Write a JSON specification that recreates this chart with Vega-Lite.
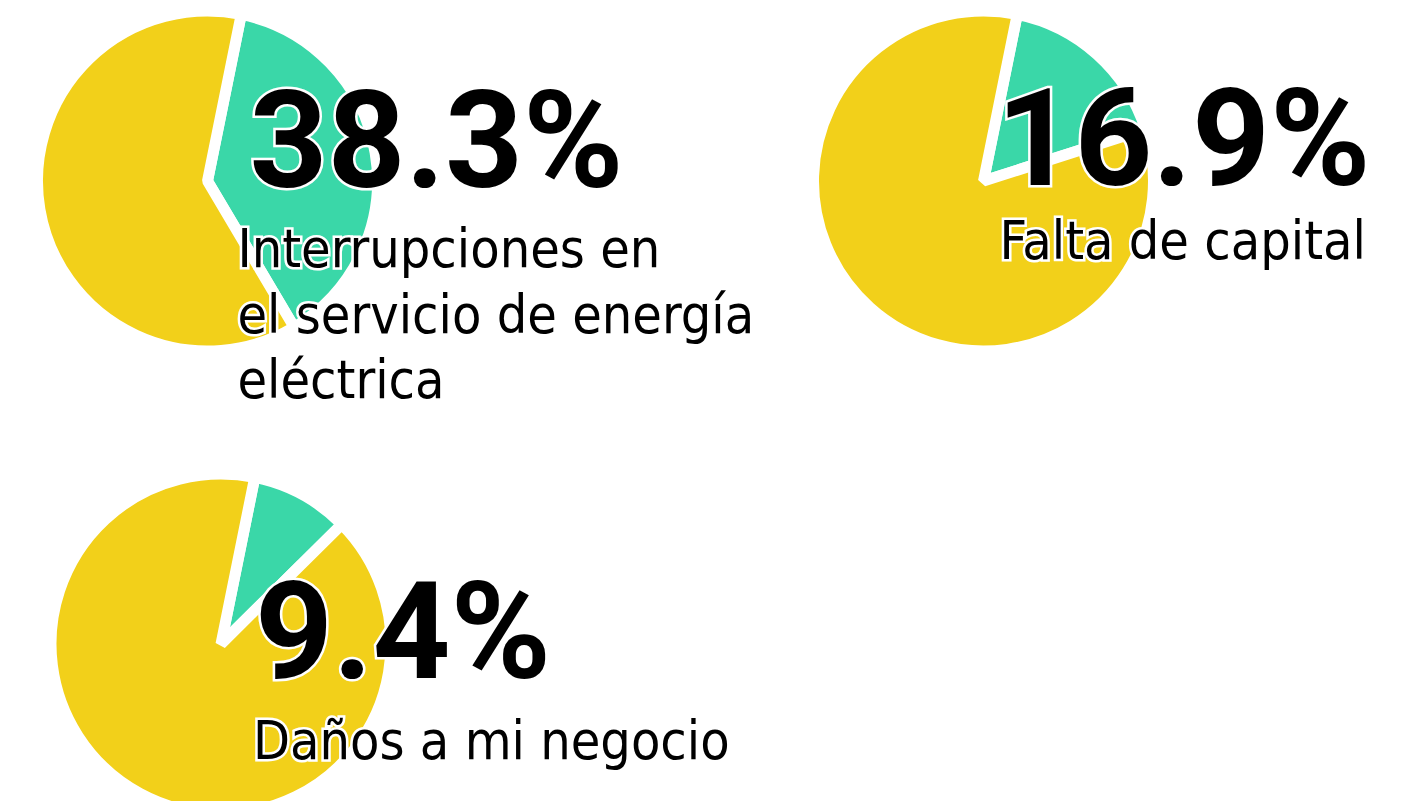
{
  "$schema": "https://vega.github.io/schema/vega-lite/v6.json",
  "padding": 0,
  "bounds": "flush",
  "columns": 2,
  "spacing": {"row": 112, "column": 334},
  "background": "white",
  "config": {"view": {"stroke": null}},
  "datasets": {
    "p1": [
      {"segmento": "Sí", "valor": 38.3, "orden": 1, "etiqueta": "38.3%", "texto": "Interrupciones en\nel servicio de energía\neléctrica"},
      {"segmento": "No", "valor": 61.7, "orden": 2, "etiqueta": "", "texto": ""}
    ],
    "p2": [
      {"segmento": "Sí", "valor": 16.9, "orden": 1, "etiqueta": "16.9%", "texto": "Falta de capital"},
      {"segmento": "No", "valor": 83.1, "orden": 2, "etiqueta": "", "texto": ""}
    ],
    "p3": [
      {"segmento": "Sí", "valor": 9.4, "orden": 1, "etiqueta": "9.4%", "texto": "Daños a mi negocio"},
      {"segmento": "No", "valor": 90.6, "orden": 2, "etiqueta": "", "texto": ""}
    ]
  },
  "concat": [
    {
      "width": 415, "height": 362,
      "data": {"name": "p1"},
      "layer": [
        {"mark": {"type": "arc", "outerRadius": 170, "stroke": "white", "strokeWidth": 11, "strokeJoin": "bevel"},
         "encoding": {
           "theta": {"field": "valor", "type": "quantitative", "stack": true, "scale": {"range": [0.2, 6.483]}},
           "color": {"field": "segmento", "type": "nominal", "scale": {"domain": ["Sí", "No"], "range": ["#3AD7A8", "#F2D01A"]}, "legend": null},
           "order": {"field": "orden"}}},
        {"transform": [{"filter": "datum.orden == 1"}],
         "mark": {"type": "text", "font": "Roboto", "fontWeight": "bold", "fontSize": 136, "align": "left", "baseline": "alphabetic", "dx": 42, "dy": 6, "fill": "white", "stroke": "white", "strokeWidth": 5},
         "encoding": {"text": {"field": "etiqueta"}}},
        {"transform": [{"filter": "datum.orden == 1"}],
         "mark": {"type": "text", "font": "Roboto", "fontWeight": "bold", "fontSize": 136, "align": "left", "baseline": "alphabetic", "dx": 42, "dy": 6, "fill": "black"},
         "encoding": {"text": {"field": "etiqueta"}}},
        {"transform": [{"filter": "datum.orden == 1"}],
         "mark": {"type": "text", "font": "'DejaVu Sans Condensed', Roboto", "fontSize": 53.5, "lineBreak": "\n", "lineHeight": 65.5, "align": "left", "baseline": "alphabetic", "dx": 30, "dy": 86, "fill": "white", "stroke": "white", "strokeWidth": 5},
         "encoding": {"text": {"field": "texto"}}},
        {"transform": [{"filter": "datum.orden == 1"}],
         "mark": {"type": "text", "font": "'DejaVu Sans Condensed', Roboto", "fontSize": 53.5, "lineBreak": "\n", "lineHeight": 65.5, "align": "left", "baseline": "alphabetic", "dx": 30, "dy": 86, "fill": "black"},
         "encoding": {"text": {"field": "texto"}}}
      ]
    },
    {
      "width": 415, "height": 362,
      "data": {"name": "p2"},
      "layer": [
        {"mark": {"type": "arc", "outerRadius": 170, "stroke": "white", "strokeWidth": 11, "strokeJoin": "bevel"},
         "encoding": {
           "theta": {"field": "valor", "type": "quantitative", "stack": true, "scale": {"range": [0.2, 6.483]}},
           "color": {"field": "segmento", "type": "nominal", "scale": {"domain": ["Sí", "No"], "range": ["#3AD7A8", "#F2D01A"]}, "legend": null},
           "order": {"field": "orden"}}},
        {"transform": [{"filter": "datum.orden == 1"}],
         "mark": {"type": "text", "font": "Roboto", "fontWeight": "bold", "fontSize": 136, "align": "left", "baseline": "alphabetic", "dx": 13, "dy": 4, "fill": "white", "stroke": "white", "strokeWidth": 5},
         "encoding": {"text": {"field": "etiqueta"}}},
        {"transform": [{"filter": "datum.orden == 1"}],
         "mark": {"type": "text", "font": "Roboto", "fontWeight": "bold", "fontSize": 136, "align": "left", "baseline": "alphabetic", "dx": 13, "dy": 4, "fill": "black"},
         "encoding": {"text": {"field": "etiqueta"}}},
        {"transform": [{"filter": "datum.orden == 1"}],
         "mark": {"type": "text", "font": "'DejaVu Sans Condensed', Roboto", "fontSize": 53.5, "align": "left", "baseline": "alphabetic", "dx": 16, "dy": 78, "fill": "white", "stroke": "white", "strokeWidth": 5},
         "encoding": {"text": {"field": "texto"}}},
        {"transform": [{"filter": "datum.orden == 1"}],
         "mark": {"type": "text", "font": "'DejaVu Sans Condensed', Roboto", "fontSize": 53.5, "align": "left", "baseline": "alphabetic", "dx": 16, "dy": 78, "fill": "black"},
         "encoding": {"text": {"field": "texto"}}}
      ]
    },
    {
      "width": 442, "height": 340,
      "data": {"name": "p3"},
      "layer": [
        {"mark": {"type": "arc", "outerRadius": 170, "stroke": "white", "strokeWidth": 11, "strokeJoin": "bevel"},
         "encoding": {
           "theta": {"field": "valor", "type": "quantitative", "stack": true, "scale": {"range": [0.2, 6.483]}},
           "color": {"field": "segmento", "type": "nominal", "scale": {"domain": ["Sí", "No"], "range": ["#3AD7A8", "#F2D01A"]}, "legend": null},
           "order": {"field": "orden"}}},
        {"transform": [{"filter": "datum.orden == 1"}],
         "mark": {"type": "text", "font": "Roboto", "fontWeight": "bold", "fontSize": 136, "align": "left", "baseline": "alphabetic", "dx": 34, "dy": 34, "fill": "white", "stroke": "white", "strokeWidth": 5},
         "encoding": {"text": {"field": "etiqueta"}}},
        {"transform": [{"filter": "datum.orden == 1"}],
         "mark": {"type": "text", "font": "Roboto", "fontWeight": "bold", "fontSize": 136, "align": "left", "baseline": "alphabetic", "dx": 34, "dy": 34, "fill": "black"},
         "encoding": {"text": {"field": "etiqueta"}}},
        {"transform": [{"filter": "datum.orden == 1"}],
         "mark": {"type": "text", "font": "'DejaVu Sans Condensed', Roboto", "fontSize": 53.5, "align": "left", "baseline": "alphabetic", "dx": 32, "dy": 115, "fill": "white", "stroke": "white", "strokeWidth": 5},
         "encoding": {"text": {"field": "texto"}}},
        {"transform": [{"filter": "datum.orden == 1"}],
         "mark": {"type": "text", "font": "'DejaVu Sans Condensed', Roboto", "fontSize": 53.5, "align": "left", "baseline": "alphabetic", "dx": 32, "dy": 115, "fill": "black"},
         "encoding": {"text": {"field": "texto"}}}
      ]
    }
  ]
}
